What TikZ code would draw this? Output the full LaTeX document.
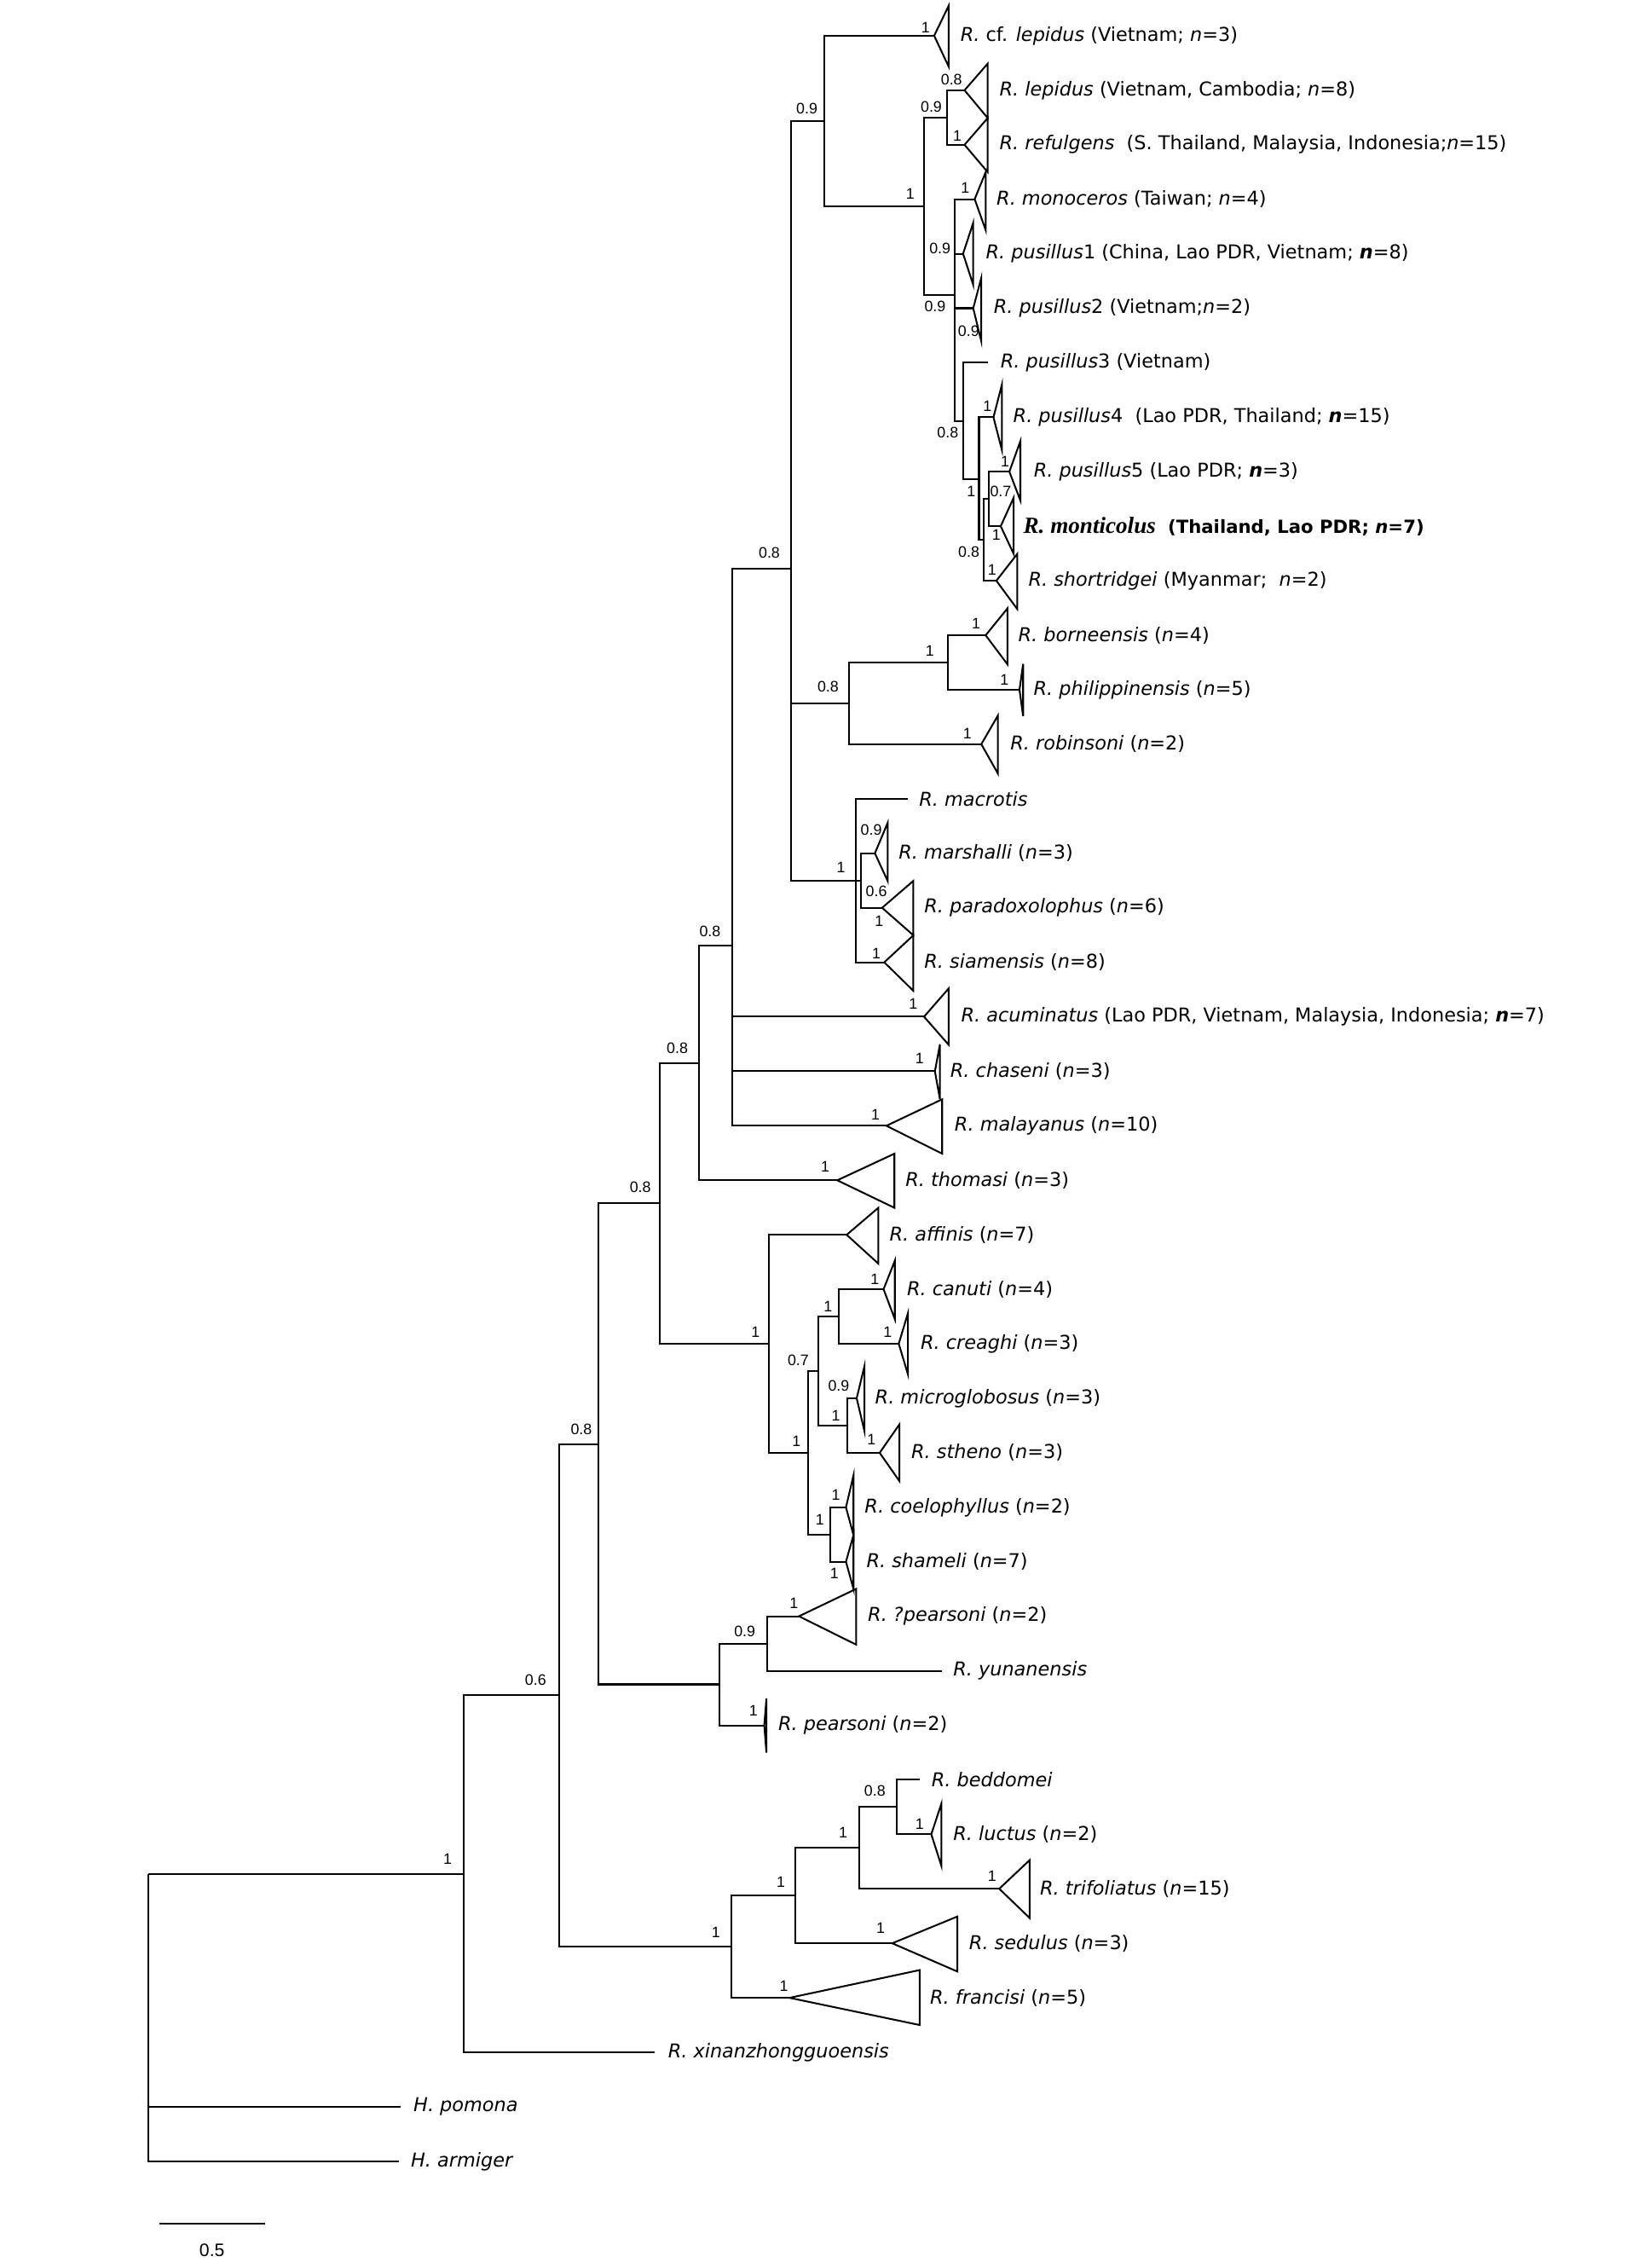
\documentclass[tikz,border=0pt]{standalone}
\usepackage{fontspec}
\setmainfont{DejaVu Sans}
\newfontfamily\supfont{Liberation Sans}
\newfontfamily\serifbf{Liberation Serif}
\newcommand\nn{\textit{n}}
\newcommand\nb{\textbf{\textit{n}}}
\newcommand\cladetri[4]{\draw[br] (#1) -- (#2,#3) -- (#2,#4) -- cycle;}
\begin{document}
\begin{tikzpicture}[x=1pt,y=-1pt,
  br/.style={line width=1.2pt},
  lab/.style={anchor=west,inner sep=0pt,font=\fontsize{13.2}{15}\selectfont},
  sup/.style={inner sep=0pt,font=\supfont\fontsize{10.5}{12}\selectfont}]
\useasboundingbox (0,0) rectangle (1142,1568);
% internal nodes
\coordinate (root) at (102.3,1295.5);
\coordinate (A) at (320.8,1295.5);
\coordinate (B) at (386.6,1172.1);
\coordinate (C) at (414,998.3);
\coordinate (D) at (506,1345.9);
\coordinate (E) at (550,1310.5);
\coordinate (F) at (594,1277.5);
\coordinate (G) at (620,1249.3);
\coordinate (H) at (456.5,832);
\coordinate (I) at (483.5,735);
\coordinate (J) at (506.5,654);
\coordinate (K) at (531.5,929);
\coordinate (L) at (547,393);
\coordinate (M) at (570,83.7);
\coordinate (N) at (587,486.3);
\coordinate (O) at (591.8,608.8);
\coordinate (P) at (639,142.6);
\coordinate (Q) at (655,81.25);
\coordinate (R) at (660,204);
\coordinate (S) at (666,291);
\coordinate (T) at (677,331);
\coordinate (U) at (680.5,373.3);
\coordinate (V) at (684,345);
\coordinate (W) at (655.4,458);
\coordinate (X) at (595.5,608.8);
\coordinate (Y) at (558.6,1004.4);
\coordinate (Z) at (566,947.9);
\coordinate (AA) at (574.3,1060.9);
\coordinate (BB) at (580,910.2);
\coordinate (CC) at (585.7,985.6);
\coordinate (DD) at (497.3,1164.5);
\coordinate (EE) at (530.4,1136.3);
% leaf tips
\coordinate (cflep) at (646,24.7);
\coordinate (lepid) at (667,62.4);
\coordinate (reful) at (667,100.1);
\coordinate (monoc) at (674,137.7);
\coordinate (pusA) at (666,175.4);
\coordinate (pusB) at (673,213.1);
\coordinate (pusC) at (683,250.8);
\coordinate (pusD) at (687,288.5);
\coordinate (pusE) at (698,326.1);
\coordinate (monti) at (692,363.8);
\coordinate (short) at (689,401.5);
\coordinate (borne) at (681.6,439.2);
\coordinate (phil) at (705,476.9);
\coordinate (robin) at (678.6,514.5);
\coordinate (macro) at (627.8,552.2);
\coordinate (marsh) at (605,589.9);
\coordinate (parad) at (610,627.6);
\coordinate (siam) at (611.5,665.3);
\coordinate (acum) at (639,702.9);
\coordinate (chas) at (646.5,740.6);
\coordinate (malay) at (613,778.3);
\coordinate (thom) at (579,816);
\coordinate (affin) at (585.5,853.7);
\coordinate (canu) at (611,891.3);
\coordinate (creag) at (621.5,929);
\coordinate (micro) at (592.4,966.7);
\coordinate (sthen) at (608.3,1004.4);
\coordinate (coelo) at (585,1042.1);
\coordinate (shame) at (585,1079.7);
\coordinate (qpear) at (552.5,1117.4);
\coordinate (yunan) at (651.5,1155.1);
\coordinate (pears) at (528.5,1192.8);
\coordinate (bedd) at (636,1230.5);
\coordinate (luct) at (644,1268.1);
\coordinate (trif) at (691,1305.8);
\coordinate (sedu) at (617,1343.5);
\coordinate (franc) at (546,1381.2);
\coordinate (xin) at (453,1418.9);
\coordinate (pom) at (277,1456.5);
\coordinate (arm) at (275.6,1494.2);
% branches
\foreach \p/\c in {root/A,root/pom,root/arm,A/B,A/xin,B/C,B/D,C/H,C/DD,
  D/E,D/franc,E/F,E/sedu,F/G,F/trif,G/bedd,G/luct,H/I,H/K,I/J,I/thom,
  J/L,J/acum,J/chas,J/malay,L/M,L/N,L/O,M/cflep,M/P,P/Q,P/R,Q/lepid,Q/reful,
  R/monoc,R/pusA,R/pusB,R/S,S/pusC,S/T,T/pusD,T/U,U/V,U/short,V/pusE,V/monti,
  N/W,N/robin,W/borne,W/phil,O/macro,O/X,O/siam,X/marsh,X/parad,K/affin,K/Y,
  Y/Z,Y/AA,Z/BB,Z/CC,BB/canu,BB/creag,CC/micro,CC/sthen,AA/coelo,AA/shame,
  DD/EE,DD/pears,EE/qpear,EE/yunan}
  \draw[br] (\p) |- (\c);
% collapsed clades
\cladetri{cflep}{656}{4}{46}
\cladetri{lepid}{683}{44}{81.6}
\cladetri{reful}{683}{81.6}{119}
\cladetri{monoc}{681.6}{119}{159}
\cladetri{pusA}{673}{154}{197}
\cladetri{pusB}{678.6}{192}{236}
\cladetri{pusD}{692.8}{266}{311}
\cladetri{pusE}{705.6}{305}{346}
\cladetri{monti}{701}{344}{383}
\cladetri{short}{703.4}{383}{421}
\cladetri{borne}{696.7}{420.6}{459.3}
\cladetri{phil}{707.5}{459}{495}
\cladetri{robin}{690}{494.8}{534.7}
\cladetri{marsh}{613.8}{569}{609}
\cladetri{parad}{631.6}{609}{646.6}
\cladetri{siam}{631.6}{646.6}{685}
\cladetri{acum}{656}{683.4}{722.3}
\cladetri{chas}{650}{722}{760}
\cladetri{malay}{651.5}{760}{797.6}
\cladetri{thom}{618.5}{797.6}{835}
\cladetri{affin}{607.4}{835}{873.6}
\cladetri{canu}{618.8}{871.6}{912}
\cladetri{creag}{627.8}{908}{950}
\cladetri{micro}{597.8}{944.4}{989.5}
\cladetri{sthen}{622}{984.7}{1024}
\cladetri{coelo}{590.2}{1020}{1061.3}
\cladetri{shame}{590.2}{1061.3}{1098.5}
\cladetri{qpear}{592}{1098.5}{1137}
\cladetri{pears}{530}{1174.3}{1211.7}
\cladetri{luct}{651}{1247}{1290}
\cladetri{trif}{712}{1286}{1326}
\cladetri{sedu}{662}{1325}{1363}
\cladetri{franc}{636}{1362}{1400}
% taxon labels
\node[lab] (t-cflep) at (664,24.7) {\textit{R.} cf. \textit{lepidus} (Vietnam; \nn=3)};
\node[lab] (t-lepid) at (691,62.4) {\textit{R. lepidus} (Vietnam, Cambodia; \nn=8)};
\node[lab] (t-reful) at (691,100.1) {\textit{R. refulgens}\ \ (S. Thailand, Malaysia, Indonesia;\nn=15)};
\node[lab] (t-monoc) at (689,137.7) {\textit{R. monoceros} (Taiwan; \nn=4)};
\node[lab] (t-pusA) at (681.6,175.4) {\textit{R. pusillus}1 (China, Lao PDR, Vietnam; \nb=8)};
\node[lab] (t-pusB) at (687,213.1) {\textit{R. pusillus}2 (Vietnam;\nn=2)};
\node[lab] (t-pusC) at (691.7,250.8) {\textit{R. pusillus}3 (Vietnam)};
\node[lab] (t-pusD) at (700.5,288.5) {\textit{R. pusillus}4\ \ (Lao PDR, Thailand; \nb=15)};
\node[lab] (t-pusE) at (714.7,326.1) {\textit{R. pusillus}5 (Lao PDR; \nb=3)};
\node[lab] (t-monti) at (707.5,363.8) {{\serifbf\bfseries\itshape\fontsize{16}{18}\selectfont R. monticolus}\ \ {\fontsize{12.5}{15}\selectfont\bfseries (Thailand, Lao PDR; \textit{n}=7)}};
\node[lab] (t-short) at (711,401.5) {\textit{R. shortridgei} (Myanmar;\ \ \nn=2)};
\node[lab] (t-borne) at (704,439.2) {\textit{R. borneensis} (\nn=4)};
\node[lab] (t-phil) at (714.6,476.9) {\textit{R. philippinensis} (\nn=5)};
\node[lab] (t-robin) at (698.5,514.5) {\textit{R. robinsoni} (\nn=2)};
\node[lab] (t-macro) at (635.4,552.2) {\textit{R. macrotis}};
\node[lab] (t-marsh) at (621.3,589.9) {\textit{R. marshalli} (\nn=3)};
\node[lab] (t-parad) at (639,627.6) {\textit{R. paradoxolophus} (\nn=6)};
\node[lab] (t-siam) at (639,665.3) {\textit{R. siamensis} (\nn=8)};
\node[lab] (t-acum) at (664.5,702.9) {\textit{R. acuminatus} (Lao PDR, Vietnam, Malaysia, Indonesia; \nb=7)};
\node[lab] (t-chas) at (657,740.6) {\textit{R. chaseni} (\nn=3)};
\node[lab] (t-malay) at (660,778.3) {\textit{R. malayanus} (\nn=10)};
\node[lab] (t-thom) at (626,816) {\textit{R. thomasi} (\nn=3)};
\node[lab] (t-affin) at (615,853.7) {\textit{R. affinis} (\nn=7)};
\node[lab] (t-canu) at (627,891.3) {\textit{R. canuti} (\nn=4)};
\node[lab] (t-creag) at (636.5,929) {\textit{R. creaghi} (\nn=3)};
\node[lab] (t-micro) at (605,966.7) {\textit{R. microglobosus} (\nn=3)};
\node[lab] (t-sthen) at (630,1004.4) {\textit{R. stheno} (\nn=3)};
\node[lab] (t-coelo) at (597.8,1042.1) {\textit{R. coelophyllus} (\nn=2)};
\node[lab] (t-shame) at (599,1079.7) {\textit{R. shameli} (\nn=7)};
\node[lab] (t-qpear) at (600,1117.4) {\textit{R. ?pearsoni} (\nn=2)};
\node[lab] (t-yunan) at (659,1155.1) {\textit{R. yunanensis}};
\node[lab] (t-pears) at (538,1192.8) {\textit{R. pearsoni} (\nn=2)};
\node[lab] (t-bedd) at (644,1230.5) {\textit{R. beddomei}};
\node[lab] (t-luct) at (659,1268.1) {\textit{R. luctus} (\nn=2)};
\node[lab] (t-trif) at (719,1305.8) {\textit{R. trifoliatus} (\nn=15)};
\node[lab] (t-sedu) at (670,1343.5) {\textit{R. sedulus} (\nn=3)};
\node[lab] (t-franc) at (643,1381.2) {\textit{R. francisi} (\nn=5)};
\node[lab] (t-xin) at (461.8,1418.9) {\textit{R. xinanzhongguoensis}};
\node[lab] (t-pom) at (285.8,1456.5) {\textit{H. pomona}};
\node[lab] (t-arm) at (284,1494.2) {\textit{H. armiger}};
% support values
\foreach \x/\y/\t [count=\i] in {
  309.5/1285.5/1, 370.4/1161.5/0.6, 402/988/0.8, 495/1336/1, 540/1301/1,
  583/1267/1, 605/1238/0.8, 636/1261/1, 686/1297/1, 609/1333/1, 542/1373/1,
  442.8/821/0.8, 468.4/724.6/0.8, 491/643.8/0.8, 532/382.3/0.8, 558/75/0.9,
  640/19/1, 629.5/134/1, 644/73.7/0.9, 658/55/0.8, 662/94/1, 667.5/130/1,
  650/172/0.9, 646.6/211.7/0.9, 669.8/229/0.9, 655.4/299/0.8, 671.6/340/1,
  682.8/281/1, 670/381.5/0.8, 692/340/0.7, 695/319/1, 689/370/1, 686/394/1,
  643/450/1, 572.6/475/0.8, 675/431.4/1, 694.6/470/1, 669/507/1,
  581.6/600/1, 602.5/574/0.9, 606/616/0.6, 608/637/1, 606/659/1,
  631.5/693.8/1, 636/732/1, 605.5/770.5/1, 570.7/806.7/1,
  522.5/920.8/1, 572.5/903/1, 605/884.4/1, 613.8/920.8/1, 552/940.5/0.7,
  580/958/0.9, 578/978.8/1, 602.6/995.4/1, 550.7/996.5/1, 578/1033.8/1,
  567/1050.5/1, 577/1087.8/1, 515/1127.7/0.9, 549/1108.5/1, 521/1182.8/1}
  \node[sup] (s\i) at (\x,\y) {\t};
% scale bar
\coordinate (sb1) at (110,1537.5);
\coordinate (sb2) at (183.6,1537.5);
\draw[br] (sb1) -- (sb2);
\node[inner sep=0pt,font=\supfont\fontsize{12.5}{14}\selectfont] (sbl) at (146.6,1556) {0.5};
\end{tikzpicture}
\end{document}
